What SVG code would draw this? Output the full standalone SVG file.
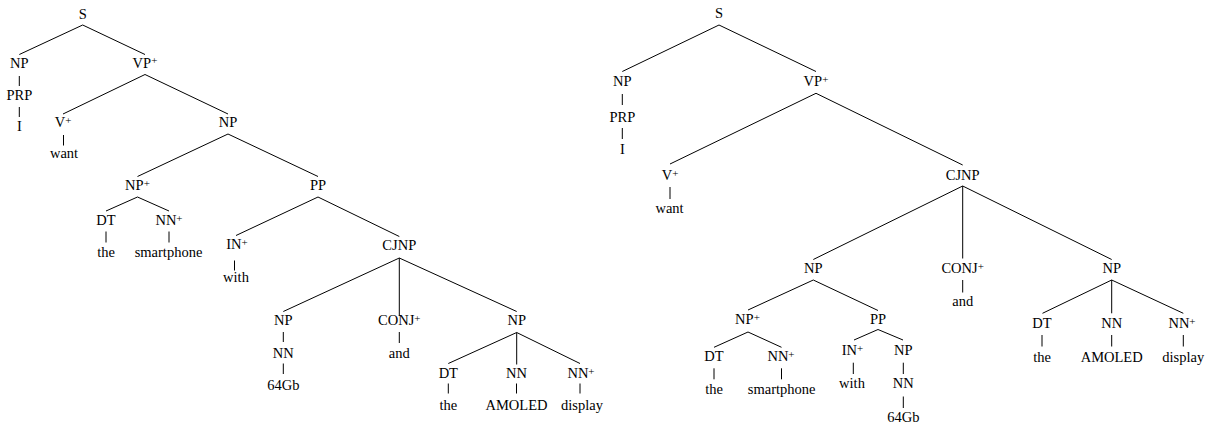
<svg xmlns="http://www.w3.org/2000/svg" width="1216" height="426" viewBox="0 0 1216 426">
  <style>
    text { font-family: "Liberation Serif", "Times New Roman", serif; font-size: 14.5px; fill: #000; text-anchor: middle; }
    .sup { font-size: 11px; }
    #edges line { stroke: #000; stroke-width: 1; fill: none; }
  </style>
  <rect width="1216" height="426" fill="#fff"/>

  <!-- Connectors: both parse trees -->
  <g id="edges">
    <!-- left tree -->
    <line x1="82.7" y1="25" x2="19.3" y2="54.5"/>
    <line x1="82.7" y1="25" x2="145" y2="54.5"/>
    <line x1="19.3" y1="76" x2="19.3" y2="86"/>
    <line x1="19.3" y1="107" x2="19.3" y2="117"/>
    <line x1="145" y1="74.5" x2="63" y2="114"/>
    <line x1="145" y1="74.5" x2="228" y2="114"/>
    <line x1="63.5" y1="135" x2="63.5" y2="145.5"/>
    <line x1="228" y1="134" x2="137.5" y2="176.5"/>
    <line x1="228" y1="134" x2="318" y2="176.5"/>
    <line x1="137.5" y1="197" x2="106" y2="211"/>
    <line x1="137.5" y1="197" x2="169" y2="211"/>
    <line x1="106" y1="231.5" x2="106" y2="242.5"/>
    <line x1="169" y1="231.5" x2="169" y2="242.5"/>
    <line x1="318" y1="197" x2="236" y2="235.5"/>
    <line x1="318" y1="197" x2="399.3" y2="236.5"/>
    <line x1="234.5" y1="260.5" x2="234.5" y2="270.5"/>
    <line x1="399.3" y1="258" x2="283.3" y2="311.5"/>
    <line x1="399.3" y1="258" x2="399.3" y2="316"/>
    <line x1="399.3" y1="258" x2="516.7" y2="311.5"/>
    <line x1="283.3" y1="332" x2="283.3" y2="342"/>
    <line x1="283.3" y1="363.5" x2="283.3" y2="374"/>
    <line x1="399.3" y1="332" x2="399.3" y2="343"/>
    <line x1="516.7" y1="332.5" x2="448.3" y2="363.5"/>
    <line x1="516.7" y1="332.5" x2="516.7" y2="364.5"/>
    <line x1="516.7" y1="332.5" x2="580" y2="363.5"/>
    <line x1="448.3" y1="383.5" x2="448.3" y2="393.5"/>
    <line x1="516.5" y1="383.5" x2="516.5" y2="393.5"/>
    <line x1="580" y1="383.5" x2="580" y2="393.5"/>

    <!-- right tree -->
    <line x1="719" y1="25" x2="622.3" y2="71.5"/>
    <line x1="719" y1="25" x2="816" y2="71.5"/>
    <line x1="622.3" y1="94" x2="622.3" y2="105"/>
    <line x1="622.3" y1="128" x2="622.3" y2="139"/>
    <line x1="816" y1="93.3" x2="670" y2="164"/>
    <line x1="816" y1="93.3" x2="962.7" y2="165"/>
    <line x1="670" y1="187" x2="670" y2="199"/>
    <line x1="962.7" y1="186" x2="813.3" y2="259.5"/>
    <line x1="962.7" y1="186" x2="962.7" y2="258.5"/>
    <line x1="962.7" y1="186" x2="1111.7" y2="259.5"/>
    <line x1="813.3" y1="280" x2="748" y2="310"/>
    <line x1="813.3" y1="280" x2="878" y2="310.5"/>
    <line x1="748" y1="332" x2="714" y2="347.3"/>
    <line x1="748" y1="332" x2="781.5" y2="347.3"/>
    <line x1="714" y1="368.3" x2="714" y2="379.3"/>
    <line x1="781.5" y1="368.3" x2="781.5" y2="379.3"/>
    <line x1="878" y1="329.5" x2="854" y2="340"/>
    <line x1="878" y1="329.5" x2="903" y2="340"/>
    <line x1="853.3" y1="362.7" x2="853.3" y2="374"/>
    <line x1="903.3" y1="362.7" x2="903.3" y2="374"/>
    <line x1="903.3" y1="396.5" x2="903.3" y2="408"/>
    <line x1="962.7" y1="280" x2="962.7" y2="292.5"/>
    <line x1="1111.7" y1="280" x2="1042.5" y2="313.3"/>
    <line x1="1111.7" y1="280" x2="1111.7" y2="313.3"/>
    <line x1="1111.7" y1="280" x2="1183.3" y2="313.3"/>
    <line x1="1042" y1="335" x2="1042" y2="346.5"/>
    <line x1="1111.7" y1="335" x2="1111.7" y2="346.5"/>
    <line x1="1183.3" y1="335" x2="1183.3" y2="346.5"/>
  </g>

  <!-- Left tree nodes -->
  <g id="l-s"><text x="82.7" y="18.5">S</text></g>
  <g id="l-np"><text x="19.3" y="67.7">NP</text></g>
  <g id="l-prp"><text x="19.3" y="100">PRP</text></g>
  <g id="l-i"><text x="19.3" y="131">I</text></g>
  <g id="l-vp"><text x="145" y="67.7">VP<tspan class="sup" dy="-3.5">+</tspan></text></g>
  <g id="l-v"><text x="63" y="127.3">V<tspan class="sup" dy="-3.5">+</tspan></text></g>
  <g id="l-want"><text x="64" y="158.3">want</text></g>
  <g id="l-np2"><text x="228" y="127.3">NP</text></g>
  <g id="l-np3"><text x="137.5" y="190">NP<tspan class="sup" dy="-3.5">+</tspan></text></g>
  <g id="l-dt1"><text x="106" y="225">DT</text></g>
  <g id="l-the1"><text x="106" y="256.7">the</text></g>
  <g id="l-nn1"><text x="169" y="225">NN<tspan class="sup" dy="-3.5">+</tspan></text></g>
  <g id="l-smartphone"><text x="168.5" y="256.7">smartphone</text></g>
  <g id="l-pp"><text x="318" y="190">PP</text></g>
  <g id="l-in"><text x="237" y="249">IN<tspan class="sup" dy="-3.5">+</tspan></text></g>
  <g id="l-with"><text x="236" y="281.7">with</text></g>
  <g id="l-cjnp"><text x="399.3" y="250">CJNP</text></g>
  <g id="l-np4"><text x="283.3" y="325">NP</text></g>
  <g id="l-nn2"><text x="283.3" y="358.3">NN</text></g>
  <g id="l-64gb"><text x="283.3" y="390">64Gb</text></g>
  <g id="l-conj"><text x="399.3" y="325">CONJ<tspan class="sup" dy="-3.5">+</tspan></text></g>
  <g id="l-and"><text x="399.3" y="358.3">and</text></g>
  <g id="l-np5"><text x="516.7" y="325">NP</text></g>
  <g id="l-dt2"><text x="448.3" y="378.3">DT</text></g>
  <g id="l-the2"><text x="448.3" y="410">the</text></g>
  <g id="l-nn3"><text x="516.5" y="378.3">NN</text></g>
  <g id="l-amoled"><text x="516.5" y="410">AMOLED</text></g>
  <g id="l-nn4"><text x="581" y="378.3">NN<tspan class="sup" dy="-3.5">+</tspan></text></g>
  <g id="l-display"><text x="582" y="410">display</text></g>

  <!-- Right tree nodes -->
  <g id="r-s"><text x="719" y="18.3">S</text></g>
  <g id="r-np"><text x="622.3" y="86">NP</text></g>
  <g id="r-prp"><text x="622.3" y="121.7">PRP</text></g>
  <g id="r-i"><text x="622.3" y="154">I</text></g>
  <g id="r-vp"><text x="816" y="86">VP<tspan class="sup" dy="-3.5">+</tspan></text></g>
  <g id="r-v"><text x="670" y="180">V<tspan class="sup" dy="-3.5">+</tspan></text></g>
  <g id="r-want"><text x="669.5" y="213.3">want</text></g>
  <g id="r-cjnp"><text x="962.7" y="180">CJNP</text></g>
  <g id="r-np2"><text x="813.3" y="273.3">NP</text></g>
  <g id="r-np3"><text x="747.5" y="324">NP<tspan class="sup" dy="-3.5">+</tspan></text></g>
  <g id="r-dt1"><text x="714" y="361">DT</text></g>
  <g id="r-the1"><text x="714" y="394.3">the</text></g>
  <g id="r-nn1"><text x="781" y="361">NN<tspan class="sup" dy="-3.5">+</tspan></text></g>
  <g id="r-smartphone"><text x="781.7" y="394.3">smartphone</text></g>
  <g id="r-pp"><text x="878" y="324">PP</text></g>
  <g id="r-in"><text x="852.5" y="355">IN<tspan class="sup" dy="-3.5">+</tspan></text></g>
  <g id="r-with"><text x="852" y="388.3">with</text></g>
  <g id="r-np4"><text x="903.3" y="355">NP</text></g>
  <g id="r-nn2"><text x="903.3" y="388.3">NN</text></g>
  <g id="r-64gb"><text x="903.3" y="421.7">64Gb</text></g>
  <g id="r-conj"><text x="962.7" y="273.3">CONJ<tspan class="sup" dy="-3.5">+</tspan></text></g>
  <g id="r-and"><text x="962.7" y="306">and</text></g>
  <g id="r-np5"><text x="1111.7" y="273.3">NP</text></g>
  <g id="r-dt2"><text x="1042" y="328.3">DT</text></g>
  <g id="r-the2"><text x="1042" y="361.7">the</text></g>
  <g id="r-nn3"><text x="1111.7" y="328.3">NN</text></g>
  <g id="r-amoled"><text x="1111.7" y="361.7">AMOLED</text></g>
  <g id="r-nn4"><text x="1182" y="328.3">NN<tspan class="sup" dy="-3.5">+</tspan></text></g>
  <g id="r-display"><text x="1183.3" y="361.7">display</text></g>
</svg>
